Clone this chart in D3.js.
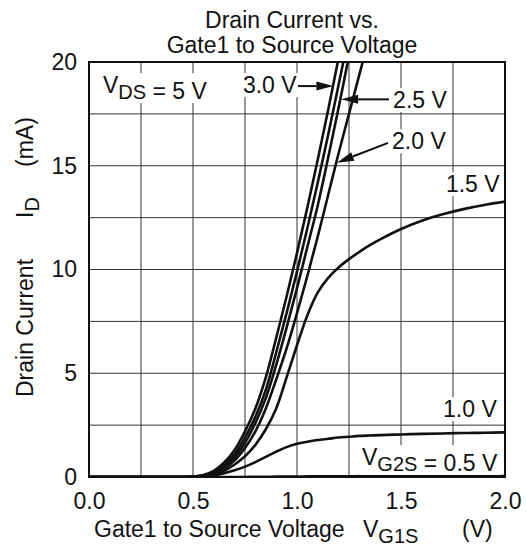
<!DOCTYPE html>
<html lang="en">
  <head>
    <meta charset="utf-8" />
    <script type="text/javascript" src="https://d3js.org/d3.v7.min.js"></script>
    <style>
      body { margin: 0; background: #fff; }
      text { font-family: "Liberation Sans", Arial, sans-serif; fill: #111; }
    </style>
  </head>

  <body>
    <script type="text/javascript">
      let w = 526;
      let h = 548;

      // gate1-to-source voltage (V), shared by every curve
      let vg1s = [0, 0.45, 0.5, 0.55, 0.6, 0.65, 0.7, 0.75, 0.8, 0.85, 0.9, 0.95,
        1.0, 1.05, 1.1, 1.15, 1.2, 1.25, 1.3, 1.35, 1.4, 1.5, 1.6, 1.7, 1.8, 1.9, 2.0];

      // drain current (mA) for each VG2S, null once the curve is off the top
      let id30 = [0, 0, 0.02, 0.1, 0.3, 0.7, 1.3, 2.2, 3.3, 4.8, 6.7, 8.7,
        10.8, 13.0, 15.3, 17.7, 20.2, null, null, null, null, null, null, null, null, null, null];
      let id25 = [0, 0, 0.02, 0.08, 0.25, 0.6, 1.1, 1.9, 2.9, 4.2, 6.0, 7.9,
        9.9, 12.0, 14.2, 16.5, 18.9, 21.3, null, null, null, null, null, null, null, null, null];
      let idX = [0, 0, 0.02, 0.07, 0.2, 0.5, 0.95, 1.65, 2.6, 3.8, 5.4, 7.2,
        9.1, 11.1, 13.1, 15.4, 17.8, 20.3, null, null, null, null, null, null, null, null, null];
      let id20 = [0, 0, 0.01, 0.05, 0.15, 0.4, 0.8, 1.4, 2.2, 3.3, 4.7, 6.2,
        7.9, 9.7, 11.6, 13.6, 15.6, 17.5, 19.4, 21.3, null, null, null, null, null, null, null];
      let id15 = [0, 0, 0.01, 0.04, 0.12, 0.3, 0.6, 1.0, 1.55, 2.3, 3.3, 4.8,
        6.35, 7.8, 8.9, 9.6, 10.1, 10.5, 10.85, 11.17, 11.45, 11.95, 12.35, 12.66, 12.91, 13.11, 13.27];
      let id10 = [0, 0, 0, 0.02, 0.08, 0.18, 0.32, 0.5, 0.72, 0.97, 1.22, 1.44,
        1.6, 1.7, 1.78, 1.84, 1.9, 1.94, 1.98, 2.0, 2.02, 2.05, 2.08, 2.1, 2.12, 2.13, 2.15];
      let id05 = [0, 0, 0, 0, 0, 0, 0, 0, 0.01, 0.01, 0.02, 0.02,
        0.02, 0.03, 0.03, 0.03, 0.03, 0.03, 0.04, 0.04, 0.04, 0.04, 0.04, 0.04, 0.04, 0.04, 0.04];

      let series = [id30, id25, idX, id20, id15, id10, id05];

      let xTicks = [0, 0.5, 1.0, 1.5, 2.0];
      let yTicks = [0, 5, 10, 15, 20];

      let x = d3.scaleLinear().domain([0, 2]).range([89, 505]);
      let y = d3.scaleLinear().domain([0, 20]).range([477, 62]);

      let svg = d3
        .select("body")
        .append("svg")
        .attr("width", w)
        .attr("height", h);

      // grid
      let grid = svg.append("g").attr("stroke", "#333").attr("stroke-width", 1);
      grid
        .selectAll("line.gx")
        .data(d3.range(0.25, 2, 0.25))
        .join("line")
        .attr("class", "gx")
        .attr("x1", (d) => x(d))
        .attr("x2", (d) => x(d))
        .attr("y1", y(0))
        .attr("y2", y(20));
      grid
        .selectAll("line.gy")
        .data(d3.range(2.5, 20, 2.5))
        .join("line")
        .attr("class", "gy")
        .attr("x1", x(0))
        .attr("x2", x(2))
        .attr("y1", (d) => y(d))
        .attr("y2", (d) => y(d));

      // curves, clipped to the plot box
      svg
        .append("clipPath")
        .attr("id", "plot")
        .append("rect")
        .attr("x", x(0))
        .attr("y", y(20))
        .attr("width", x(2) - x(0))
        .attr("height", y(0) - y(20));

      let line = d3
        .line()
        .defined((d) => d[1] != null)
        .x((d) => x(d[0]))
        .y((d) => y(d[1]))
        .curve(d3.curveCatmullRom);

      svg
        .append("g")
        .attr("clip-path", "url(#plot)")
        .selectAll("path")
        .data(series)
        .join("path")
        .attr("d", (s) => line(vg1s.map((v, i) => [v, s[i]])))
        .attr("fill", "none")
        .attr("stroke", "#111")
        .attr("stroke-width", 2.6);

      // labels with white boxes behind them
      function label(vx, vy, parts) {
        let g = svg.append("g");
        let t = g.append("text").attr("x", x(vx)).attr("y", y(vy)).attr("font-size", 23);
        parts.forEach((p) => {
          if (typeof p === "string") {
            t.append("tspan").text(p);
          } else {
            t.append("tspan").attr("dy", 6).attr("font-size", 20).text(p.s);
            t.append("tspan").attr("dy", -6).text("");
          }
        });
        let b = t.node().getBBox();
        g.insert("rect", "text")
          .attr("x", b.x - 3)
          .attr("y", b.y + 1)
          .attr("width", b.width + 6)
          .attr("height", b.height - 2)
          .attr("fill", "#fff");
      }

      function arrow(from, to) {
        let x1 = x(from[0]), y1 = y(from[1]), x2 = x(to[0]), y2 = y(to[1]);
        let a = Math.atan2(y2 - y1, x2 - x1);
        let len = 17, hw = 4.5;
        let bx = x2 - len * Math.cos(a), by = y2 - len * Math.sin(a);
        svg.append("line")
          .attr("x1", x1).attr("y1", y1).attr("x2", bx).attr("y2", by)
          .attr("stroke", "#111").attr("stroke-width", 2);
        svg.append("path")
          .attr("d", "M" + x2 + "," + y2 +
            "L" + (bx + hw * Math.sin(a)) + "," + (by - hw * Math.cos(a)) +
            "L" + (bx - hw * Math.sin(a)) + "," + (by + hw * Math.cos(a)) + "Z")
          .attr("fill", "#111");
      }

      label(0.067, 18.5, ["V", { s: "DS" }, " = 5 V"]);
      label(0.74, 18.5, ["3.0 V"]);
      label(1.462, 17.78, ["2.5 V"]);
      label(1.457, 15.8, ["2.0 V"]);
      label(1.716, 13.73, ["1.5 V"]);
      label(1.702, 2.89, ["1.0 V"]);
      label(1.3125, 0.58, ["V", { s: "G2S" }, " = 0.5 V"]);

      arrow([1.005, 18.84], [1.175, 18.84]);
      arrow([1.442, 18.2], [1.212, 18.2]);
      arrow([1.438, 16.1], [1.192, 15.15]);

      // frame
      svg
        .append("rect")
        .attr("x", x(0))
        .attr("y", y(20))
        .attr("width", x(2) - x(0))
        .attr("height", y(0) - y(20))
        .attr("fill", "none")
        .attr("stroke", "#111")
        .attr("stroke-width", 2);

      // tick labels
      svg
        .append("g")
        .attr("transform", "translate(0," + y(0) + ")")
        .call(d3.axisBottom(x).tickValues(xTicks).tickFormat(d3.format(".1f")).tickSize(0).tickPadding(16))
        .call((g) => g.select(".domain").remove())
        .selectAll("text")
        .attr("font-size", 23)
        .attr("font-family", null);

      svg
        .append("g")
        .attr("transform", "translate(" + x(0) + ",0)")
        .call(d3.axisLeft(y).tickValues(yTicks).tickSize(0).tickPadding(12))
        .call((g) => g.select(".domain").remove())
        .selectAll("text")
        .attr("font-size", 23)
        .attr("font-family", null);

      // title
      svg.append("text").attr("x", 292).attr("y", 28).attr("text-anchor", "middle")
        .attr("font-size", 23).text("Drain Current vs.");
      svg.append("text").attr("x", 292).attr("y", 53).attr("text-anchor", "middle")
        .attr("font-size", 23).text("Gate1 to Source Voltage");

      // x axis title
      let xt = svg.append("text").attr("y", 537).attr("font-size", 23);
      xt.append("tspan").attr("x", 94).text("Gate1 to Source Voltage");
      xt.append("tspan").attr("x", 363).text("V");
      xt.append("tspan").attr("dy", 6).attr("font-size", 20).text("G1S");
      xt.append("tspan").attr("x", 462).attr("dy", -6).text("(V)");

      // y axis title
      let yt = svg.append("text").attr("transform", "translate(33,397) rotate(-90)").attr("font-size", 23);
      yt.append("tspan").attr("x", 0).text("Drain Current");
      yt.append("tspan").attr("x", 397 - 218).text("I");
      yt.append("tspan").attr("dy", 6).attr("font-size", 20).text("D");
      yt.append("tspan").attr("x", 397 - 167).attr("dy", -6).text("(mA)");
    </script>
  </body>
</html>
